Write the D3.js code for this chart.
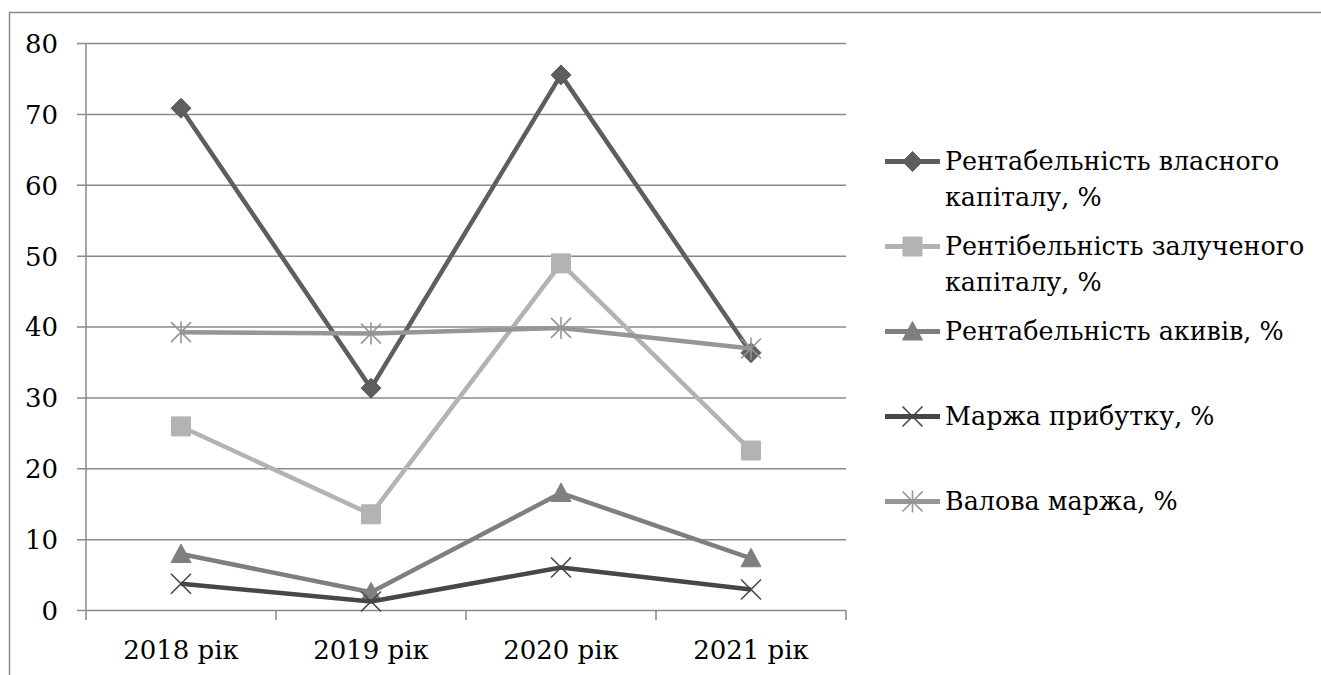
<!DOCTYPE html>
<html>
<head>
<meta charset="utf-8">
<script src="https://cdn.jsdelivr.net/npm/d3@7"></script>
<style>
  body { margin: 0; background: #fff; }
  text { fill: #000; }
</style>
</head>
<body>
<script>
window.onload = function(){

    // data
    var categories = ["2018 рік", "2019 рік", "2020 рік", "2021 рік"];
    var seriesNames = [
        "Рентабельність власного капіталу, %",
        "Рентібельність залученого капіталу, %",
        "Рентабельність акивів, %",
        "Маржа прибутку, %",
        "Валова маржа, %"
    ];
    var roeValues    = [70.8, 31.3, 75.5, 36.3];
    var roiValues    = [25.9, 13.5, 48.9, 22.5];
    var roaValues    = [7.9, 2.5, 16.5, 7.3];
    var profitMargin = [3.7, 1.2, 6.0, 2.9];
    var grossMargin  = [39.2, 39.0, 39.8, 36.9];
    var yTicks = [0, 10, 20, 30, 40, 50, 60, 70, 80];

    var seriesValues = [roeValues, roiValues, roaValues, profitMargin, grossMargin];
    var colors  = ["#5e5e5e", "#b3b3b3", "#7f7f7f", "#474747", "#969696"];
    var markers = ["diamond", "square", "triangle", "cross", "star"];

    var w = 1321, h = 675;
    var plot = {left: 86, right: 846, top: 43, bottom: 610};
    var axisColor = "#8a8a8a";
    var fontFam = "'DejaVu Serif', serif";
    var fontSize = "26px";

    var svg = d3.select("body")
        .append("svg")
        .attr("width", w)
        .attr("height", h)
        .attr("class", "svg");

    // outer chart border (runs off right and bottom)
    svg.append("rect")
        .attr("x", 9.5)
        .attr("y", 12.5)
        .attr("width", 1400)
        .attr("height", 700)
        .style("fill", "none")
        .style("stroke", axisColor)
        .style("stroke-width", 1.5);

    var x = d3.scaleBand()
        .domain(categories)
        .range([plot.left, plot.right])
        .padding(0);

    var y = d3.scaleLinear()
        .domain([0, 80])
        .range([plot.bottom, plot.top]);

    // y axis with gridlines
    var yAxis = d3.axisLeft(y)
        .tickValues(yTicks)
        .tickSize(9)
        .tickPadding(19);

    var yAxisG = svg.append("g")
        .attr("class", "yaxis")
        .attr("transform", "translate(" + plot.left + ",0)")
        .call(yAxis)
        .attr("font-family", fontFam)
        .attr("font-size", fontSize);

    yAxisG.select(".domain").remove();
    yAxisG.selectAll(".tick line")
        .attr("x1", -9)
        .attr("x2", plot.right - plot.left)
        .style("stroke", axisColor)
        .style("stroke-width", 1.5);
    yAxisG.selectAll(".tick text")
        .attr("dy", "0.36em");

    // vertical axis line
    svg.append("line")
        .attr("class", "yline")
        .attr("x1", plot.left).attr("x2", plot.left)
        .attr("y1", plot.top).attr("y2", plot.bottom + 10)
        .style("stroke", axisColor)
        .style("stroke-width", 1.5);

    // x axis: labels at band centres, ticks at band edges
    var xAxis = d3.axisBottom(x).tickSize(0).tickPadding(0);
    var xAxisG = svg.append("g")
        .attr("class", "xaxis")
        .attr("transform", "translate(0," + plot.bottom + ")")
        .call(xAxis)
        .attr("font-family", fontFam)
        .attr("font-size", fontSize);
    xAxisG.select(".domain").remove();
    xAxisG.selectAll(".tick text")
        .attr("y", 49)
        .attr("dy", 0);

    var edges = categories.map(function(c){ return x(c) + x.bandwidth(); });
    svg.selectAll(".xtick")
        .data(edges)
        .enter()
        .append("line")
        .attr("class", "xtick")
        .attr("x1", function(d){ return d; })
        .attr("x2", function(d){ return d; })
        .attr("y1", plot.bottom)
        .attr("y2", plot.bottom + 10)
        .style("stroke", axisColor)
        .style("stroke-width", 1.5);

    // marker shapes
    function markerPath(type){
        var r = 10;
        if (type == "diamond") return "M0," + (-r) + "L" + r + ",0L0," + r + "L" + (-r) + ",0Z";
        if (type == "square") return "M-9.5,-9.5H9.5V9.5H-9.5Z";
        if (type == "triangle") return "M0,-10L10,8.5H-10Z";
        if (type == "cross") return "M-10,-10L10,10M10,-10L-10,10";
        return "M-10,-10L10,10M10,-10L-10,10M0,-11V11";
    }

    function drawMarker(g, type, color){
        var open = (type == "cross" || type == "star");
        g.append("path")
            .attr("d", markerPath(type))
            .style("fill", open ? "none" : color)
            .style("stroke", color)
            .style("stroke-width", open ? 1.6 : 1);
    }

    var line = d3.line()
        .x(function(d, i){ return x(categories[i]) + x.bandwidth() / 2; })
        .y(function(d){ return y(d); });

    // series
    seriesValues.forEach(function(vals, s){
        var g = svg.append("g").attr("class", "series s" + s);
        g.append("path")
            .datum(vals)
            .attr("d", line)
            .style("fill", "none")
            .style("stroke", colors[s])
            .style("stroke-width", 4.5)
            .style("stroke-linejoin", "round");

        g.selectAll(".pt")
            .data(vals)
            .enter()
            .append("g")
            .attr("class", "pt")
            .attr("transform", function(d, i){
                return "translate(" + (x(categories[i]) + x.bandwidth() / 2) + "," + y(d) + ")";
            })
            .each(function(){ drawMarker(d3.select(this), markers[s], colors[s]); });
    });

    // legend
    var legend = svg.append("g")
        .attr("class", "legend")
        .attr("font-family", fontFam)
        .attr("font-size", "25.4px");
    var legX = 885, legTextX = 945, legBase = 170, legStep = 85, maxW = 370;

    seriesNames.forEach(function(name, s){
        var base = legBase + s * legStep;
        var item = legend.append("g").attr("class", "legendItem");
        item.append("line")
            .attr("x1", legX).attr("x2", legX + 55)
            .attr("y1", base - 8.5).attr("y2", base - 8.5)
            .style("stroke", colors[s])
            .style("stroke-width", 5);
        var mk = item.append("g")
            .attr("transform", "translate(" + (legX + 27.5) + "," + (base - 8.5) + ")");
        drawMarker(mk, markers[s], colors[s]);

        var txt = item.append("text")
            .attr("x", legTextX)
            .attr("y", base);

        // simple word wrap
        var words = name.split(" "), lineWords = [], lineNo = 0;
        var tspan = txt.append("tspan").attr("x", legTextX).attr("y", base);
        words.forEach(function(word){
            lineWords.push(word);
            tspan.text(lineWords.join(" "));
            if (tspan.node().getComputedTextLength() > maxW && lineWords.length > 1) {
                lineWords.pop();
                tspan.text(lineWords.join(" "));
                lineWords = [word];
                lineNo++;
                tspan = txt.append("tspan")
                    .attr("x", legTextX)
                    .attr("y", base + lineNo * 36)
                    .text(word);
            }
        });
    });
};
</script>
</body>
</html>
